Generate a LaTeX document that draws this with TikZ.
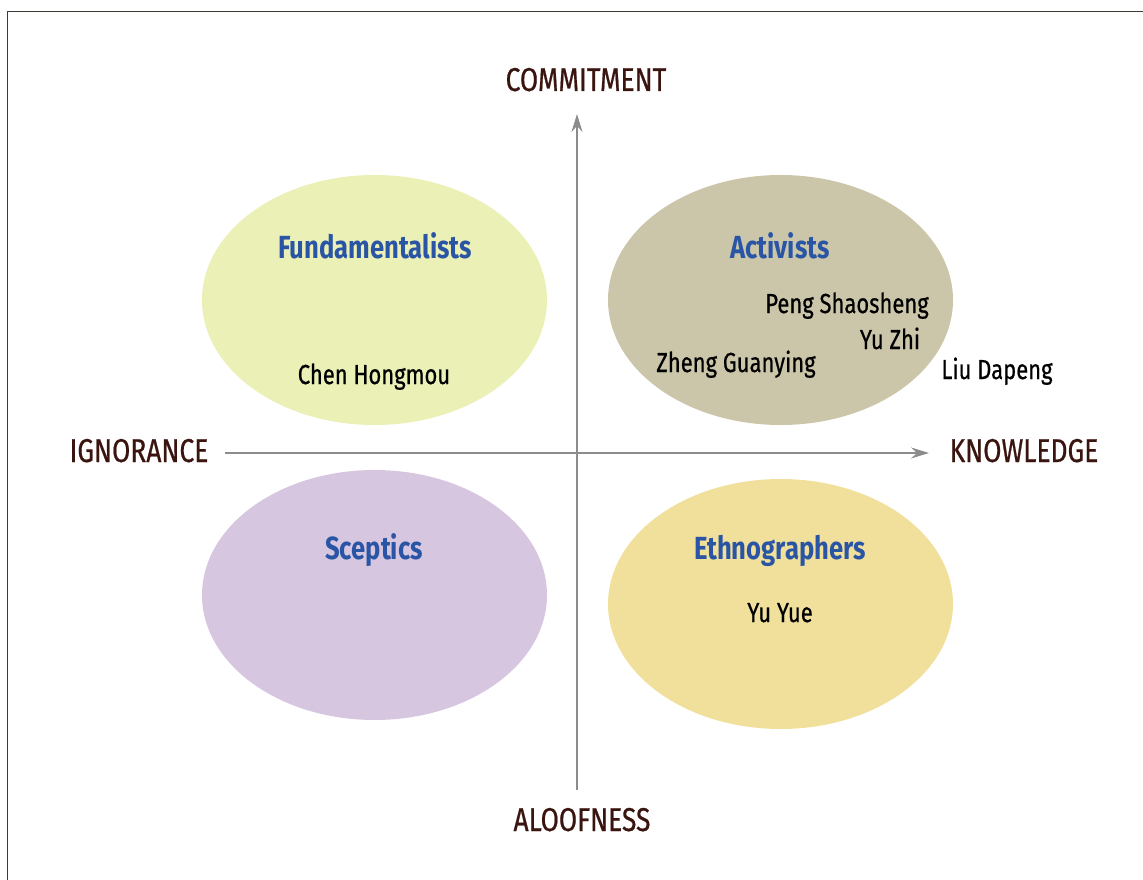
\documentclass[tikz,border=0pt]{standalone}
\usepackage{fontspec}
\setmainfont[FakeStretch=0.8,UprightFeatures={FakeBold=0.6}]{Fira Sans}
\usetikzlibrary{arrows.meta,shapes.geometric,positioning}

\definecolor{fundfill}{HTML}{EAF0B6}
\definecolor{actfill}{HTML}{CBC6A9}
\definecolor{scepfill}{HTML}{D6C6E0}
\definecolor{ethfill}{HTML}{F1E09B}
\definecolor{titleblue}{HTML}{2A55A5}
\definecolor{axisbrown}{HTML}{3A1510}
\definecolor{axisgray}{HTML}{8C8C8C}
\definecolor{framegray}{HTML}{3C3C34}

\begin{document}
\begin{tikzpicture}[x=1pt,y=-1pt,
  group/.style={ellipse,minimum width=345pt,minimum height=250pt,inner sep=0pt},
  title/.style={anchor=base,inner sep=0pt,text=titleblue,font=\fontsize{32}{36}\selectfont\bfseries},
  person/.style={anchor=base,inner sep=0pt,text=black,font=\fontsize{27.5}{32}\selectfont},
  pole/.style={anchor=base,inner sep=0pt,text=axisbrown,font=\fontsize{33}{38}\selectfont},
  axis/.style={draw=axisgray,line width=1.6pt,-{Stealth[length=18pt,width=11pt,inset=6pt]}}]
\useasboundingbox (0,0) rectangle (1143,880);
\draw[framegray,line width=1.4pt] (7.5,11.5) rectangle (1170,910);

% quadrants
\node(fund)[group,fill=fundfill] at (374.5,300) {};
\node(act)[group,fill=actfill] at (780.5,300) {};
\node(scep)[group,fill=scepfill] at (374.5,595) {};
\node(eth)[group,fill=ethfill] at (780.5,604) {};

\node(fundt)[title] at (375,258) {Fundamentalists};
\node(actt)[title] at (780,258) {Activists};
\node(scept)[title] at (374,559) {Sceptics};
\node(etht)[title] at (780,559) {Ethnographers};

\node(chen)[person] at (374,384) {Chen Hongmou};
\node(peng)[person] at (847,313) {Peng Shaosheng};
\node(yuzhi)[person] at (890,349) {Yu Zhi};
\node(zheng)[person] at (736,372) {Zheng Guanying};
\node(liu)[person] at (997,379) {Liu Dapeng};
\node(yuyue)[person] at (780,622) {Yu Yue};

% axes
\node(commit)[pole] at (586,91) {COMMITMENT};
\node(aloof)[pole] at (582,831) {ALOOFNESS};
\node(ignor)[pole] at (139,462) {IGNORANCE};
\node(know)[pole] at (1024,462) {KNOWLEDGE};

\coordinate(vbot) at (577,790);
\coordinate(vtop) at (577,114);
\coordinate(hleft) at (225,453);
\coordinate(hright) at (929,453);
\draw[axis] (vbot) -- (vtop);
\draw[axis] (hleft) -- (hright);
\end{tikzpicture}
\end{document}
